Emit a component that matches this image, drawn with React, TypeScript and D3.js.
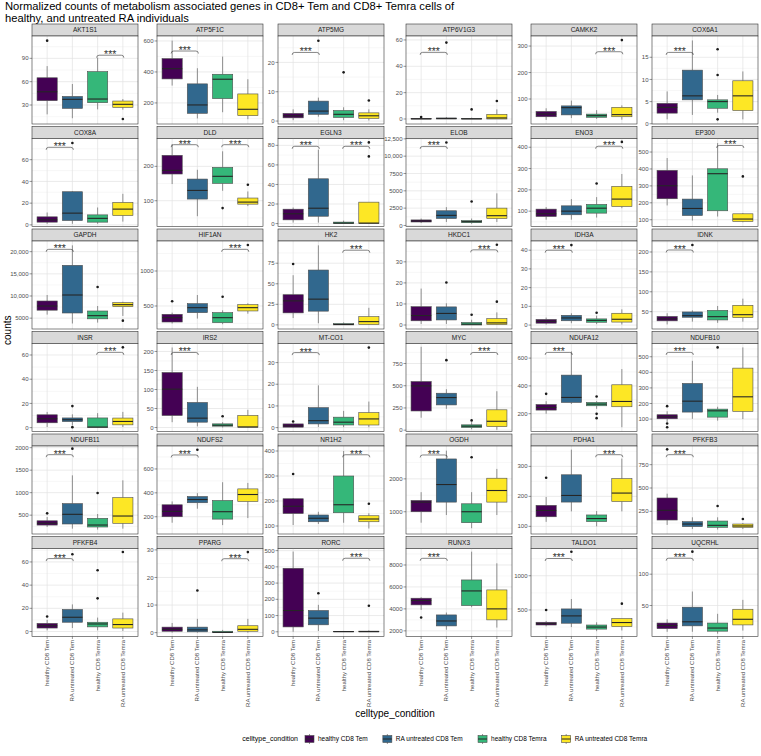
import React from "react";
import * as d3 from "d3";

const GROUPS = ["healthy CD8 Tem", "RA untreated CD8 Tem", "healthy CD8 Temra", "RA untreated CD8 Temra"];
const FILLS = ["#440154", "#31688E", "#35B779", "#FDE725"];

const GENES = [
  "AKT1S1", "ATP5F1C", "ATP5MG", "ATP6V1G3", "CAMKK2", "COX6A1",
  "COX8A", "DLD", "EGLN3", "ELOB", "ENO3", "EP300",
  "GAPDH", "HIF1AN", "HK2", "HKDC1", "IDH3A", "IDNK",
  "INSR", "IRS2", "MT-CO1", "MYC", "NDUFA12", "NDUFB10",
  "NDUFB11", "NDUFS2", "NR1H2", "OGDH", "PDHA1", "PFKFB3",
  "PFKFB4", "PPARG", "RORC", "RUNX3", "TALDO1", "UQCRHL",
];

// visible y range of each facet [bottom, top]
const Y_DOMAINS: [number, number][] = [
  [5.6, 118.7], [64, 632], [-1.0, 29], [-3.8, 63], [5.6, 338], [-0.05, 19.8],
  [-1.5, 79.5], [25, 281], [-3, 87], [-150, 12550], [28, 441], [60, 580],
  [2556, 22406], [171, 1429], [-5, 102], [-1.9, 39.9], [-2.1, 44.9], [6.5, 227.6],
  [-3.2, 69.5], [-10.5, 221], [-1.8, 38.8], [-15, 975], [72, 705], [20.4, 585],
  [81.6, 2037], [55.5, 792], [68, 420], [323, 3000], [74.5, 368], [7.2, 950],
  [-4.3, 71.6], [-1.4, 30.5], [-29, 513], [1485, 9500], [112, 1398], [0.5, 141],
];

const Y_TICKS: number[][] = [
  [30, 60, 90], [200, 400, 600], [0, 10, 20], [0, 20, 40, 60], [100, 200, 300], [0, 5, 10, 15],
  [0, 20, 40, 60], [100, 200], [0, 20, 40, 60, 80], [0, 2500, 5000, 7500, 10000, 12500], [100, 200, 300, 400], [100, 200, 300, 400, 500],
  [5000, 10000, 15000, 20000], [500, 1000], [0, 25, 50, 75], [0, 10, 20, 30], [0, 10, 20, 30, 40], [50, 100, 150, 200],
  [0, 20, 40, 60], [0, 50, 100, 150, 200], [0, 10, 20, 30], [0, 250, 500, 750], [200, 400, 600], [100, 200, 300, 400, 500],
  [500, 1000, 1500, 2000], [200, 400, 600], [100, 200, 300, 400], [1000, 2000], [100, 200, 300], [250, 500, 750],
  [0, 20, 40, 60], [0, 10, 20, 30], [0, 100, 200, 300, 400, 500], [2000, 4000, 6000, 8000], [500, 1000], [50, 100],
];

// per gene, per group: [lower whisker, q1, median, q3, upper whisker]
const BOXES: number[][][] = [
  [[18, 35.6, 47, 65, 80], [13, 25.7, 37.3, 41, 57], [24.4, 33, 37.7, 72.9, 90.9], [24, 27, 30.9, 35.1, 37.7]],
  [[312, 355, 421, 486, 602], [100, 133, 187, 323, 424], [140, 228, 353, 385, 499], [95, 118, 159, 258, 353]],
  [[0.3, 1.1, 1.8, 2.6, 4], [1.5, 2.3, 3.4, 6.8, 8], [0.3, 1.25, 2.3, 3.6, 4.7], [0.2, 0.9, 1.8, 2.8, 4]],
  [[0, 0, 0.1, 0.4, 0.8], [0, 0.1, 0.3, 0.8, 1.5], [0, 0, 0.1, 0.5, 1], [0, 0, 0.8, 3.5, 7.3]],
  [[21, 33, 43, 53, 65], [28, 40, 67.3, 74, 94], [25, 31, 37, 43, 58], [22, 33, 41, 68.5, 76]],
  [[1, 2.4, 3.7, 4.6, 7.3], [2, 5.4, 6.3, 12.1, 18.8], [2.5, 3.5, 5, 5.4, 6.5], [1, 3, 6.3, 9.7, 11.8]],
  [[1, 2.5, 4.6, 7.4, 11.4], [1, 4, 10.8, 30.5, 31], [1, 2.5, 6, 9.2, 16], [3, 8.6, 14.5, 20.6, 28.6]],
  [[148.5, 177.7, 188.3, 232, 265], [55, 104.8, 130, 163, 190], [129, 150.5, 171, 197, 243.7], [84.4, 90, 96, 107.8, 127]],
  [[1, 3.8, 10, 14.7, 16.4], [1, 7.5, 15.7, 45.8, 75.6], [0, 0, 0.5, 1.5, 3], [0, 0, 0.5, 21.9, 22]],
  [[350, 500, 650, 800, 1000], [500, 1000, 1458, 2122, 2643], [250, 400, 550, 700, 1000], [500, 1000, 1410, 2500, 4633]],
  [[60, 75, 87.6, 109.5, 119], [60, 83, 100, 125, 156.6], [70, 90.7, 114, 131.5, 166], [114, 122, 156.6, 216, 274.4]],
  [[184.5, 224, 300.8, 391.5, 464.5], [95, 125, 166.7, 222, 362], [119, 153, 372, 401, 553], [85, 90, 104, 135, 140]],
  [[5800, 6800, 7744, 8872, 10225], [3800, 6165, 10225, 16917, 21429], [4000, 4850, 5564, 6616, 7744], [5500, 7594, 8045, 8496, 8700]],
  [[250, 271, 333, 381, 405], [320, 405, 476, 533, 657], [240, 262, 333, 405, 438], [390, 429, 476, 519, 538]],
  [[8.3, 14.6, 29.2, 36.7, 60.4], [2, 16.7, 31.3, 66.7, 96.7], [0, 0, 0.5, 1.5, 3], [0, 0.5, 4, 10, 20.8]],
  [[0.5, 2, 4.5, 8.7, 17.3], [0.5, 2.4, 5.5, 8.6, 10.3], [0, 0, 0.4, 1.2, 2.5], [0, 0.2, 1, 3, 6]],
  [[0.3, 1, 2, 3, 4], [1, 2.3, 3.8, 5.2, 6.3], [0.5, 1.5, 2.5, 3.3, 5], [0.3, 1.6, 3.1, 6.3, 8.4]],
  [[18, 27, 32, 38, 46], [25, 36, 40, 49.3, 53.4], [22, 29.2, 37.5, 53.4, 64.3], [25, 35, 42.5, 66, 82.7]],
  [[0.5, 4, 7.3, 10.6, 13], [2, 5, 6.5, 8, 11], [0, 0.2, 0.5, 8, 12], [0.5, 2.3, 5.1, 7.9, 13]],
  [[14, 31.6, 100.9, 144.7, 210.5], [3, 14, 24.6, 65.8, 107], [0, 3.5, 6, 9.6, 14], [0, 0.9, 1.5, 31.6, 46.5]],
  [[0, 0.2, 0.8, 1.7, 2], [0.3, 1.7, 3.2, 9.2, 19.5], [0.2, 1.2, 2.5, 4.8, 7.7], [0.2, 1.2, 4, 6.9, 12]],
  [[140, 216, 498, 547, 938], [240, 284, 366.6, 415.5, 460.6], [10, 30, 45, 60, 90], [5, 40, 100, 229, 438]],
  [[200, 226, 245, 266, 290], [270, 281, 317, 477.6, 648], [235, 257, 269, 281, 290], [103, 250, 288, 408, 521]],
  [[80, 102, 115, 128, 150], [102, 145, 215, 328.7, 474], [90, 112.5, 153, 164, 179], [100, 150, 243, 427, 560]],
  [[240, 280, 320, 375, 460], [200, 304, 519, 756, 1385], [180, 237, 281, 430, 526], [200, 319, 481, 889, 1274]],
  [[150, 200, 245, 300, 328], [267, 317, 344, 369, 397], [130, 180, 242, 336, 489], [189, 328, 386, 433, 483]],
  [[104, 150, 179, 209, 212], [108, 117, 131, 144, 157], [113, 153, 185, 300, 400], [90, 117, 128, 141, 151]],
  [[667, 1000, 1293, 1343, 1596], [900, 1293, 1828, 2606, 2859], [500, 667, 1000, 1242, 1596], [900, 1293, 1646, 2020, 2303]],
  [[115, 132, 153, 170, 198], [150, 181, 203, 272, 356], [100, 116, 126, 138, 151], [150, 183, 211, 259, 326]],
  [[104, 157, 261, 393, 439], [60, 86, 114, 139, 186], [55, 79, 100, 146, 186], [60, 79, 93, 114, 125]],
  [[1, 3, 5, 7, 10], [3, 8, 12.3, 19, 23.4], [1, 4, 6.5, 8, 12], [0.5, 3, 6, 10.9, 16.3]],
  [[0, 0.5, 1.2, 2, 3.5], [0, 0.3, 1, 2, 5], [0, 0, 0.1, 0.5, 1], [0, 0.5, 1.2, 2.5, 5]],
  [[0, 30, 131, 391, 494], [5, 43, 84, 131, 166], [0, 0, 1, 3, 5], [0, 0, 1, 4, 8]],
  [[3909, 4364, 4758, 4970, 5061], [2100, 2450, 2900, 3450, 3667], [4152, 4303, 5636, 6636, 9212], [2300, 3000, 4000, 5727, 8152]],
  [[260, 280, 300, 320, 340], [250, 306, 413, 515, 660], [190, 220, 250, 280, 320], [200, 257, 316, 374, 374]],
  [[8, 13, 18, 22, 28], [8, 17.5, 24, 47.3, 72.3], [5, 9, 14, 22, 36.7], [10, 19, 28, 44, 59]],
];

// per gene, per group: outlier values
const OUTLIERS: number[][][] = [
  [[112.7], [], [], [12]],
  [[], [], [], []],
  [[], [27.4], [16.6], [7]],
  [[1.5], [58], [7.3], [13.7]],
  [[], [], [], [322.6]],
  [[], [], [16.8, 11, 1.0], []],
  [[], [75.4], [], []],
  [[], [], [78.6], [146.6]],
  [[], [], [], [83, 68.7]],
  [[], [11979], [3449], []],
  [[], [], [230], [425]],
  [[], [], [], [356]],
  [[], [], [12030], [4435]],
  [[567], [], [633], [1371]],
  [[74], [], [], []],
  [[], [20.2], [4.9], [11.1, 38.1]],
  [[], [42.7], [6.6], []],
  [[], [217.6], [], []],
  [[], [17.8, 0.4], [], [66.3]],
  [[], [], [29.8], []],
  [[2.8], [], [], [36.9]],
  [[], [787.6], [110], []],
  [[343], [], [324, 199, 168], []],
  [[183, 72, 48], [], [560], []],
  [[540], [1978], [993], []],
  [[], [761], [], []],
  [[308], [], [], [189]],
  [[], [], [2657], []],
  [[262], [], [], []],
  [[914], [], [307], [168]],
  [[12.9], [66.6], [52.9, 28.6], [68.6]],
  [[], [15.3], [], [29.2]],
  [[], [237], [], [160]],
  [[3212], [], [], []],
  [[500], [1350], [], [592]],
  [[], [136], [], []],
];

// significance brackets: [group a, group b, y]
const BRACKETS: [number, number, number][][] = [
  [[3, 4, 94]], [[1, 2, 535]], [[1, 2, 23.4]], [[1, 2, 50.6]], [[3, 4, 278.6]], [[1, 2, 16.1]],
  [[1, 2, 71.4]], [[1, 2, 263], [3, 4, 263]], [[1, 2, 79], [3, 4, 79]], [[1, 2, 11410]], [[3, 4, 404.7]], [[3, 4, 539]],
  [[1, 2, 20526]], [[3, 4, 1310]], [[3, 4, 90.8]], [[3, 4, 35.7]], [[1, 2, 40]], [[1, 2, 205]],
  [[3, 4, 62.2]], [[1, 2, 197.4]], [[1, 2, 34.6]], [[3, 4, 874]], [[1, 2, 641]], [[1, 2, 528]],
  [[1, 2, 1844]], [[1, 2, 717]], [[3, 4, 385]], [[1, 2, 2727]], [[3, 4, 339]], [[1, 2, 857]],
  [[1, 2, 62.9]], [[3, 4, 26.8]], [[3, 4, 453]], [[1, 2, 8606]], [[1, 2, 1252]], [[1, 2, 125.5]],
];

const TITLE_LINES = [
  "Normalized counts of metabolism associated genes in CD8+ Tem  and CD8+ Temra cells of",
  "healthy, and untreated RA individuals",
];

// layout
const W = 761, H = 756;
const COL_X = [32, 157, 278, 406, 531, 652];
const PANEL_W = 106;
const ROW_Y0 = 24, ROW_STEP = 102.5, STRIP_H = 12, PANEL_H = 88;
const FONT = "'Liberation Sans', Arial, Helvetica, sans-serif";

const fmt = (v: number) => (Math.abs(v) >= 10000 ? d3.format(",")(v) : String(v));

function measure(text: string, size: number) {
  const c = document.createElement("canvas").getContext("2d");
  if (!c) return text.length * size * 0.5;
  c.font = `${size}px ${FONT}`;
  return c.measureText(text).width;
}

function Panel({ i }: { i: number }) {
  const col = i % 6, row = Math.floor(i / 6);
  const x0 = COL_X[col];
  const y0 = ROW_Y0 + row * ROW_STEP;
  const py = y0 + STRIP_H;
  const dom = Y_DOMAINS[i];
  const xs = d3.scalePoint<string>().domain(GROUPS).range([(PANEL_W * 0.6) / 4.2, (PANEL_W * 3.6) / 4.2]);
  const ys = d3.scaleLinear().domain(dom).range([PANEL_H, 0]);
  const bw = xs.step() * 0.8;
  const ticks = Y_TICKS[i].filter((t) => t >= dom[0] && t <= dom[1]);
  const st = Y_TICKS[i][1] - Y_TICKS[i][0];
  const minors: number[] = [];
  const allT = Y_TICKS[i];
  for (let k = -1; k < allT.length; k++) {
    const m = allT[0] + st * (k + 0.5);
    if (m >= dom[0] && m <= dom[1]) minors.push(m);
  }
  const isBottom = row === 5;
  return (
    <g>
      <g transform={`translate(${x0},${y0})`}>
        <rect x={0} y={0} width={PANEL_W} height={STRIP_H} fill="#D9D9D9" stroke="#333333" strokeWidth={0.6} />
        <text x={PANEL_W / 2} y={STRIP_H / 2} dy="0.35em" textAnchor="middle" fontSize={6.5} fill="#1A1A1A" fontFamily={FONT}>
          {GENES[i]}
        </text>
      </g>
      <g transform={`translate(${x0},${py})`}>
        <rect x={0} y={0} width={PANEL_W} height={PANEL_H} fill="#FFFFFF" />
        {minors.map((m, k) => (
          <line key={"mi" + k} x1={0} x2={PANEL_W} y1={ys(m)} y2={ys(m)} stroke="#EBEBEB" strokeWidth={0.4} />
        ))}
        {ticks.map((t, k) => (
          <line key={"ma" + k} x1={0} x2={PANEL_W} y1={ys(t)} y2={ys(t)} stroke="#E3E3E3" strokeWidth={0.7} />
        ))}
        {GROUPS.map((g, k) => (
          <line key={"vg" + k} x1={xs(g)} x2={xs(g)} y1={0} y2={PANEL_H} stroke="#E3E3E3" strokeWidth={0.7} />
        ))}
        {GROUPS.map((g, k) => {
          const [lo, q1, md, q3, hi] = BOXES[i][k];
          const cx = xs(g) as number;
          return (
            <g key={"b" + k}>
              <line x1={cx} x2={cx} y1={ys(hi)} y2={ys(q3)} stroke="#4D4D4D" strokeWidth={0.6} />
              <line x1={cx} x2={cx} y1={ys(q1)} y2={ys(lo)} stroke="#4D4D4D" strokeWidth={0.6} />
              <rect x={cx - bw / 2} y={ys(q3)} width={bw} height={Math.max(0.3, ys(q1) - ys(q3))} fill={FILLS[k]} stroke="#4D4D4D" strokeWidth={0.6} />
              <line x1={cx - bw / 2} x2={cx + bw / 2} y1={ys(md)} y2={ys(md)} stroke="#262626" strokeWidth={1.1} />
              {OUTLIERS[i][k].map((o, j) => (
                <circle key={j} cx={cx} cy={ys(o)} r={1.3} fill="#1A1A1A" />
              ))}
            </g>
          );
        })}
        {BRACKETS[i].map(([a, b, yv], k) => {
          const xa = (xs(GROUPS[a - 1]) as number) - 1;
          const xb = (xs(GROUPS[b - 1]) as number) + 1;
          const yy = ys(yv);
          return (
            <g key={"br" + k}>
              <path d={`M${xa},${yy + 2.5} Q${xa},${yy} ${xa + 2.5},${yy} L${xb - 2.5},${yy} Q${xb},${yy} ${xb},${yy + 2.5}`} fill="none" stroke="#333333" strokeWidth={0.6} />
              <text x={(xa + xb) / 2} y={yy + 3} textAnchor="middle" fontSize={10.5} fill="#333333" fontFamily={FONT}>
                ***
              </text>
            </g>
          );
        })}
        <rect x={0} y={0} width={PANEL_W} height={PANEL_H} fill="none" stroke="#333333" strokeWidth={0.6} />
        {ticks.map((t, k) => (
          <g key={"yt" + k}>
            <line x1={-2.5} x2={0} y1={ys(t)} y2={ys(t)} stroke="#333333" strokeWidth={0.5} />
            <text x={-3.5} y={ys(t)} dy="0.35em" textAnchor="end" fontSize={6} fill="#4D4D4D" fontFamily={FONT}>
              {fmt(t)}
            </text>
          </g>
        ))}
        {isBottom &&
          GROUPS.map((g, k) => (
            <g key={"xt" + k}>
              <line x1={xs(g)} x2={xs(g)} y1={PANEL_H} y2={PANEL_H + 2.5} stroke="#333333" strokeWidth={0.5} />
              <text transform={`translate(${xs(g)},${PANEL_H + 3.5}) rotate(-90)`} dy="0.35em" textAnchor="end" fontSize={6} fill="#4D4D4D" fontFamily={FONT}>
                {g}
              </text>
            </g>
          ))}
      </g>
    </g>
  );
}

function Legend() {
  const y = 739;
  const titleSize = 7, labelSize = 6.5, key = 11;
  const titleW = measure("celltype_condition", titleSize);
  const items = GROUPS.map((g) => measure(g, labelSize));
  const total = titleW + 6 + items.reduce((s, w) => s + key + 3 + w + 14, 0) - 14;
  let x = 445 - total / 2;
  const out: React.ReactNode[] = [];
  out.push(
    <text key="t" x={x} y={y} dy="0.35em" fontSize={titleSize} fill="#000" fontFamily={FONT}>
      celltype_condition
    </text>
  );
  x += titleW + 6;
  GROUPS.forEach((g, k) => {
    out.push(
      <g key={"k" + k}>
        <rect x={x} y={y - key / 2} width={key} height={key} fill="#FFFFFF" />
        <line x1={x + key / 2} x2={x + key / 2} y1={y - key / 2 + 0.5} y2={y + key / 2 - 0.5} stroke="#4D4D4D" strokeWidth={0.6} />
        <rect x={x + 1} y={y - 3.5} width={key - 2} height={7} fill={FILLS[k]} stroke="#4D4D4D" strokeWidth={0.6} />
        <line x1={x + 1} x2={x + key - 1} y1={y} y2={y} stroke="#262626" strokeWidth={1} />
        <text x={x + key + 3} y={y} dy="0.35em" fontSize={labelSize} fill="#000" fontFamily={FONT}>
          {g}
        </text>
      </g>
    );
    x += key + 3 + items[k] + 14;
  });
  return <g>{out}</g>;
}

export default function App() {
  const plotTop = ROW_Y0;
  const plotBottom = ROW_Y0 + 5 * ROW_STEP + STRIP_H + PANEL_H;
  return (
    <svg width={W} height={H} style={{ position: "absolute", left: 0, top: 0, background: "#FFFFFF" }} fontFamily={FONT}>
      <rect x={0} y={0} width={W} height={H} fill="#FFFFFF" />
      {TITLE_LINES.map((t, k) => (
        <text key={k} x={5} y={10 + k * 11.5} fontSize={11.2} fill="#000">
          {t}
        </text>
      ))}
      <text transform={`translate(11,${(plotTop + plotBottom) / 2}) rotate(-90)`} textAnchor="middle" fontSize={10} fill="#000">
        counts
      </text>
      {GENES.map((_, i) => (
        <Panel key={i} i={i} />
      ))}
      <text x={(COL_X[0] + COL_X[5] + PANEL_W) / 2} y={713} textAnchor="middle" dy="0.35em" fontSize={10} fill="#000">
        celltype_condition
      </text>
      <Legend />
    </svg>
  );
}
